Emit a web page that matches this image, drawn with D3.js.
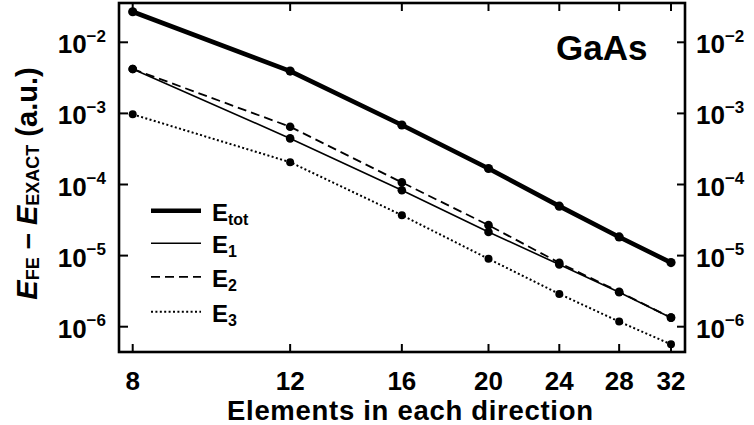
<!DOCTYPE html>
<html>
<head>
<meta charset="utf-8">
<script src="https://cdn.jsdelivr.net/npm/d3@7"></script>
<style>
  body { margin: 0; background: #fff; }
  svg { display: block; }
  text { font-family: "Liberation Sans", Arial, Helvetica, sans-serif; font-weight: bold; fill: #000; }
</style>
</head>
<body>
<svg id="chart" width="754" height="425"></svg>
<script>
// Finite-element energy error for GaAs vs. mesh resolution
const elements = [8, 12, 16, 20, 24, 28, 32];
const eTot = [2.69e-2, 3.94e-3, 6.87e-4, 1.68e-4, 4.96e-5, 1.83e-5, 7.97e-6];
const e1   = [4.22e-3, 4.45e-4, 8.3e-5, 2.15e-5, 7.5e-6, 3.05e-6, 1.34e-6];
const e2   = [4.22e-3, 6.49e-4, 1.07e-4, 2.68e-5, 7.9e-6, 3.1e-6, 1.34e-6];
const e3   = [9.7e-4, 2.06e-4, 3.7e-5, 9.0e-6, 2.89e-6, 1.18e-6, 5.65e-7];
const xTicks = [8, 12, 16, 20, 24, 28, 32];
const yTicks = [1e-2, 1e-3, 1e-4, 1e-5, 1e-6];

const svg = d3.select("#chart");

// plot frame
const frame = { left: 119, right: 685, top: 3, bottom: 352 };

const x = d3.scaleLog().domain([8, 32]).range([132.7, 671]);
const y = d3.scaleLog().domain([1e-6, 1e-2]).range([326.7, 42.3]);

const series = [
  { name: "tot", values: eTot, width: 4.6, dash: null, r: 4.6 },
  { name: "1",   values: e1,   width: 1.6, dash: null, r: 4.3 },
  { name: "2",   values: e2,   width: 1.8, dash: "9,5", r: 4.3 },
  { name: "3",   values: e3,   width: 2.0, dash: "2,2.4", r: 4.0 }
];

const line = d3.line()
  .x(d => x(d.n))
  .y(d => y(d.v));

const g = svg.append("g");

series.forEach(s => {
  const pts = elements.map((n, i) => ({ n, v: s.values[i] }));
  g.append("path")
    .datum(pts)
    .attr("d", line)
    .attr("fill", "none")
    .attr("stroke", "#000")
    .attr("stroke-width", s.width)
    .attr("stroke-dasharray", s.dash)
    .attr("stroke-linejoin", "round");
  g.selectAll(null)
    .data(pts)
    .enter().append("circle")
    .attr("cx", d => x(d.n))
    .attr("cy", d => y(d.v))
    .attr("r", s.r)
    .attr("fill", "#000");
});

// ticks on all four sides, pointing inward
const tickLen = 8;
const axisStroke = 2;
const xt = svg.append("g");
xTicks.forEach(t => {
  xt.append("line").attr("x1", x(t)).attr("x2", x(t))
    .attr("y1", frame.bottom).attr("y2", frame.bottom - tickLen)
    .attr("stroke", "#000").attr("stroke-width", axisStroke);
  xt.append("line").attr("x1", x(t)).attr("x2", x(t))
    .attr("y1", frame.top).attr("y2", frame.top + tickLen)
    .attr("stroke", "#000").attr("stroke-width", axisStroke);
  xt.append("text")
    .attr("x", x(t)).attr("y", 390)
    .attr("text-anchor", "middle")
    .attr("font-size", 26)
    .text(t);
});

const yt = svg.append("g");
yTicks.forEach(t => {
  const yy = y(t);
  const exp = Math.round(Math.log10(t));
  yt.append("line").attr("x1", frame.left).attr("x2", frame.left + tickLen + 1)
    .attr("y1", yy).attr("y2", yy)
    .attr("stroke", "#000").attr("stroke-width", axisStroke);
  yt.append("line").attr("x1", frame.right).attr("x2", frame.right - tickLen)
    .attr("y1", yy).attr("y2", yy)
    .attr("stroke", "#000").attr("stroke-width", axisStroke);

  const lt = yt.append("text")
    .attr("x", 106).attr("y", yy + 11)
    .attr("text-anchor", "end")
    .attr("font-size", 26);
  lt.append("tspan").text("10");
  lt.append("tspan").attr("dy", -11.5).attr("font-size", 17).text("\u2212" + Math.abs(exp));

  const rt = yt.append("text")
    .attr("x", 696).attr("y", yy + 11)
    .attr("text-anchor", "start")
    .attr("font-size", 26);
  rt.append("tspan").text("10");
  rt.append("tspan").attr("dy", -11.5).attr("font-size", 17).text("\u2212" + Math.abs(exp));
});

// frame
svg.append("rect")
  .attr("x", frame.left).attr("y", frame.top)
  .attr("width", frame.right - frame.left)
  .attr("height", frame.bottom - frame.top)
  .attr("fill", "none")
  .attr("stroke", "#000")
  .attr("stroke-width", 2.6);

// axis titles
svg.append("text")
  .attr("x", 410).attr("y", 420)
  .attr("text-anchor", "middle")
  .attr("font-size", 27.5)
  .attr("textLength", 366)
  .attr("lengthAdjust", "spacing")
  .text("Elements in each direction");

const yl = svg.append("text")
  .attr("transform", "translate(37,183.5) rotate(-90)")
  .attr("text-anchor", "middle")
  .attr("font-size", 29);
yl.append("tspan").attr("font-style", "italic").text("E");
yl.append("tspan").attr("font-size", 18).attr("dy", 2).text("FE");
yl.append("tspan").attr("dy", -2).text(" \u2013 ");
yl.append("tspan").attr("font-style", "italic").text("E");
yl.append("tspan").attr("font-size", 18).attr("dy", 2).text("EXACT");
yl.append("tspan").attr("dy", -2).text(" (a.u.)");

// material label
svg.append("text")
  .attr("x", 556).attr("y", 60)
  .attr("font-size", 35)
  .text("GaAs");

// legend
const legendY = [210.7, 243.3, 276.9, 311.7];
series.forEach((s, i) => {
  const ly = legendY[i];
  svg.append("line")
    .attr("x1", 151).attr("x2", 201)
    .attr("y1", ly).attr("y2", ly)
    .attr("stroke", "#000")
    .attr("stroke-width", s.width)
    .attr("stroke-dasharray", s.dash);
  const t = svg.append("text")
    .attr("x", 212).attr("y", ly + 10)
    .attr("font-size", 24);
  t.append("tspan").text("E");
  t.append("tspan").attr("font-size", 16).attr("dy", 4).text(s.name);
});
</script>
</body>
</html>
